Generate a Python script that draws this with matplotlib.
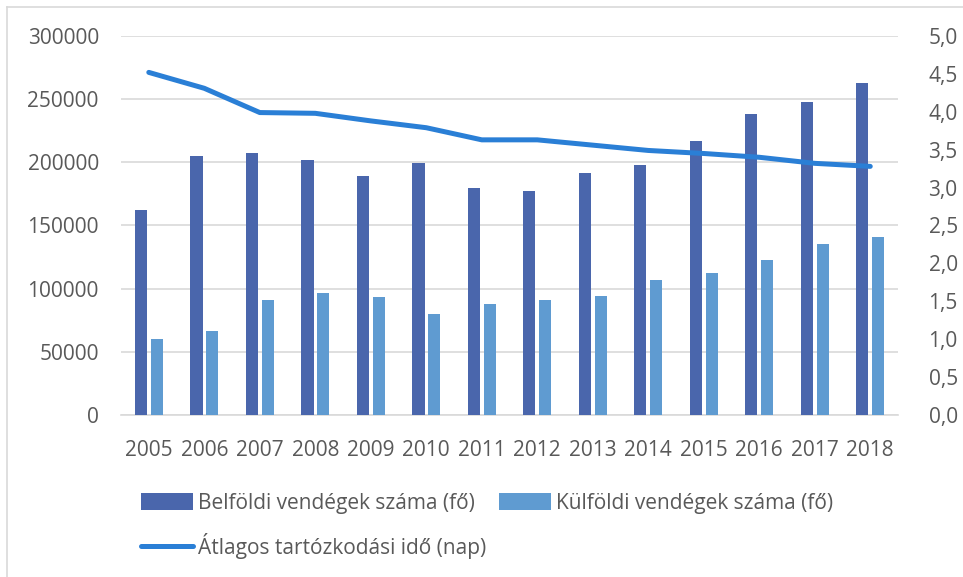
import matplotlib.pyplot as plt
import numpy as np
from matplotlib.lines import Line2D

plt.rcParams['font.family'] = ['Open Sans', 'DejaVu Sans']

# data
years = ['2005', '2006', '2007', '2008', '2009', '2010', '2011',
         '2012', '2013', '2014', '2015', '2016', '2017', '2018']
belfoldi = [162000, 205000, 207000, 202000, 189000, 199500, 180000,
            177500, 191500, 198000, 217000, 238500, 248000, 263000]
kulfoldi = [60000, 66500, 91000, 96500, 93000, 80000, 87500,
            91000, 94500, 106500, 112000, 123000, 135500, 141000]
atlagos = [4.52, 4.31, 3.99, 3.98, 3.88, 3.79, 3.63,
           3.63, 3.56, 3.49, 3.45, 3.40, 3.32, 3.28]

left_ticks = [0, 50000, 100000, 150000, 200000, 250000, 300000]
right_ticks = np.arange(0, 5.01, 0.5)

text_col = '#595959'
c_dark = '#4a66ac'
c_light = '#5f9bd1'
c_line = '#2a7fd6'

fig = plt.figure(figsize=(9.63, 5.77), dpi=100)
ax = fig.add_axes([0.1257, 0.2808, 0.8068, 0.6568])
ax2 = ax.twinx()

x = np.arange(len(years))
w = 0.22
b1 = ax.bar(x - 0.142, belfoldi, w, color=c_dark, zorder=3)
b2 = ax.bar(x + 0.142, kulfoldi, w, color=c_light, zorder=3)
l1, = ax2.plot(x, atlagos, color=c_line, lw=3.6, solid_capstyle='round',
               solid_joinstyle='round')

ax.set_xlim(-0.5, len(years) - 0.5)
ax.set_ylim(0, 300000)
ax.set_yticks(left_ticks)
ax.set_yticklabels([str(v) for v in left_ticks])
ax.set_xticks(x)
ax.set_xticklabels(years)
ax.grid(axis='y', color='#d9d9d9', lw=1.2, zorder=0)
ax.set_axisbelow(True)

ax2.set_ylim(0, 5)
ax2.set_yticks(right_ticks)
ax2.set_yticklabels([f'{v:.1f}'.replace('.', ',') for v in right_ticks])

for a in (ax, ax2):
    for s in a.spines.values():
        s.set_visible(False)
    a.tick_params(length=0, labelsize=15, colors=text_col)
ax.tick_params(axis='x', pad=18)
ax.tick_params(axis='y', pad=16)
ax2.tick_params(axis='y', pad=22)
ax.spines['bottom'].set_visible(True)
ax.spines['bottom'].set_color('#d9d9d9')
ax.spines['bottom'].set_linewidth(1.2)

leg = fig.legend([b1, l1, b2],
                 ['Belföldi vendégek száma (fő)', 'Átlagos tartózkodási idő (nap)',
                  'Külföldi vendégek száma (fő)'],
                 ncol=2, loc='upper left', bbox_to_anchor=(0.1464, 0.146),
                 frameon=False, fontsize=15, handlelength=2.5, handleheight=0.9,
                 handletextpad=0.25, columnspacing=0.6, labelspacing=0.9,
                 borderaxespad=0, borderpad=0)
for t in leg.get_texts():
    t.set_color(text_col)

# chart border (cut at right and bottom in the reference)
fig.add_artist(Line2D([7 / 963, 7 / 963], [0, 1 - 7 / 577], transform=fig.transFigure,
                      color='#d9d9d9', lw=1.2))
fig.add_artist(Line2D([7 / 963, 1], [1 - 7 / 577, 1 - 7 / 577], transform=fig.transFigure,
                      color='#d9d9d9', lw=1.2))

fig.savefig('out.png', dpi=100)
